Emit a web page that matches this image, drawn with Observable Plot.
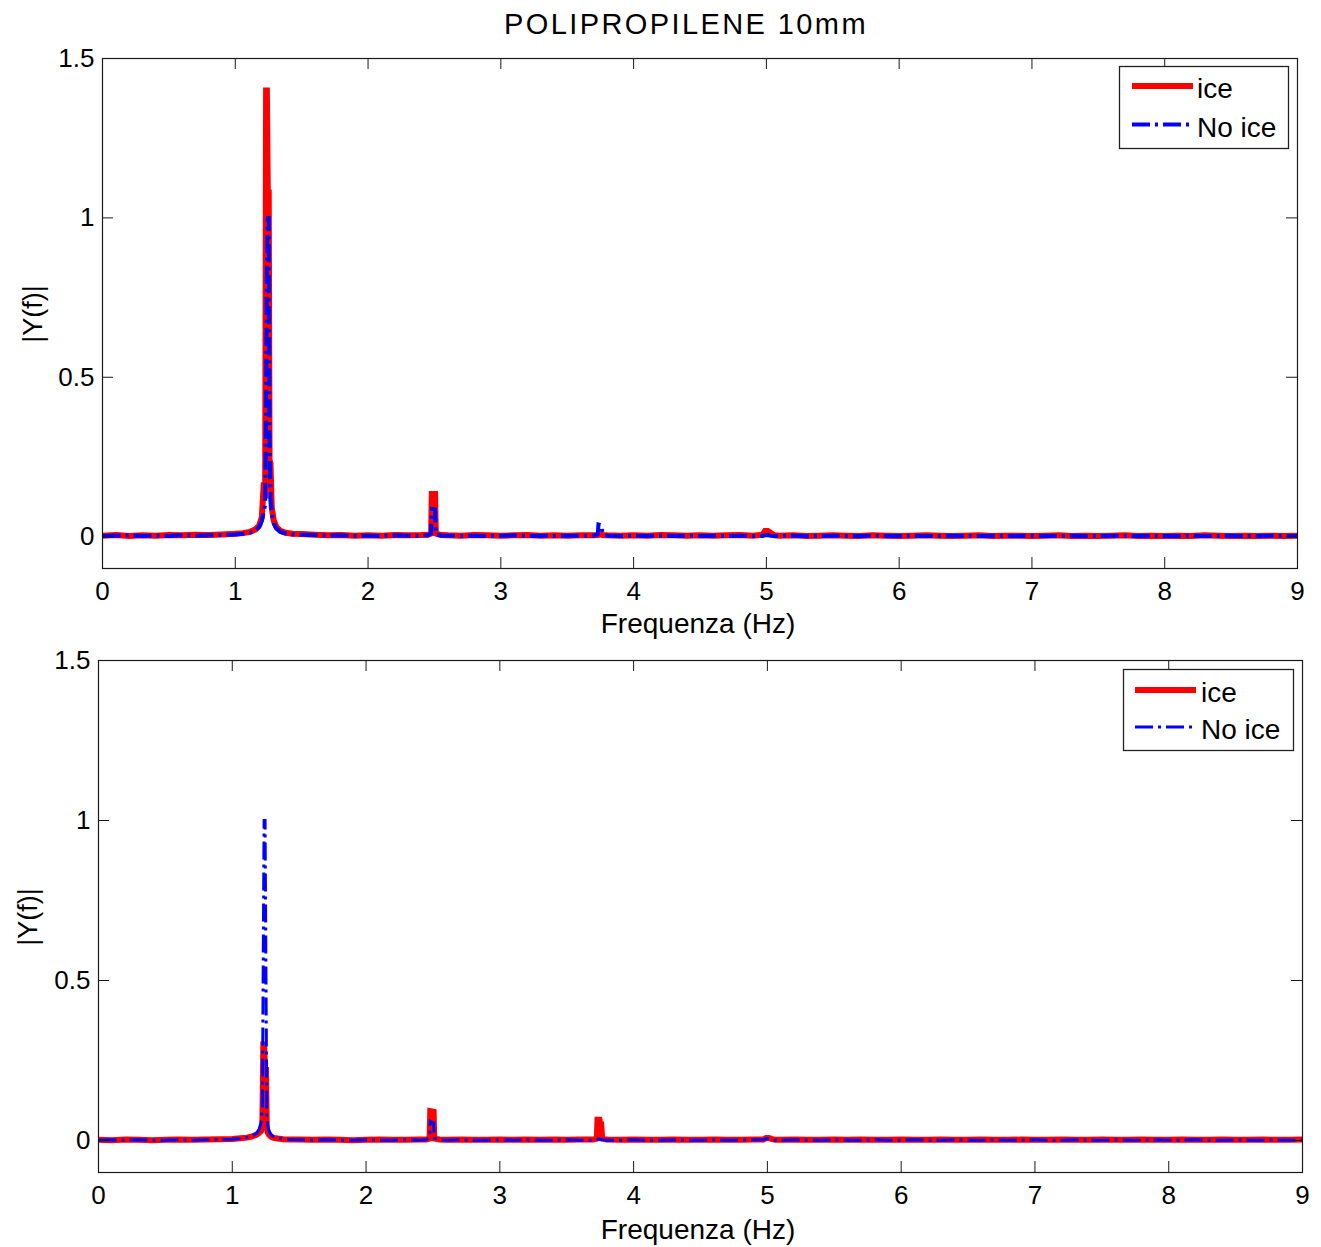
<!DOCTYPE html>
<html>
<head>
<meta charset="utf-8">
<script src="https://cdn.jsdelivr.net/npm/d3@7"></script>
<script src="https://cdn.jsdelivr.net/npm/@observablehq/plot@0.6"></script>
<style>
  html, body { margin: 0; padding: 0; background: #fff; }
  #page { position: relative; width: 1321px; height: 1247px; overflow: hidden; background: #fff; font-family: "Liberation Sans", Arial, sans-serif; }
  #top, #bottom { position: absolute; left: 0; }
  #top { top: 0; }
  #bottom { top: 640px; }
  #overlay { position: absolute; left: 0; top: 0; pointer-events: none; }
</style>
</head>
<body>
<div id="page">
  <div id="top"></div>
  <div id="bottom"></div>
  <svg id="overlay" width="1321" height="1247"></svg>
</div>
<script>
// ---------- data ----------
const title = "POLIPROPILENE 10mm";
const xLabel = "Frequenza (Hz)";
const yLabel = "|Y(f)|";
const seriesNames = ["ice", "No ice"];
const xTicks = [0, 1, 2, 3, 4, 5, 6, 7, 8, 9];
const yTicks = [0, 0.5, 1, 1.5];

// top panel
const freqTop = [
  0, 0.1, 0.2, 0.3, 0.4, 0.5, 0.6, 0.7, 0.8, 0.9,
  1.0, 1.06, 1.11, 1.15, 1.18, 1.2, 1.215, 1.225, 1.232, 1.238, 1.245, 1.252, 1.258, 1.265, 1.275, 1.29, 1.31, 1.34, 1.38, 1.43, 1.5,
  1.6, 1.7, 1.8, 1.9, 2.0, 2.1, 2.2, 2.3, 2.4,
  2.45, 2.475, 2.48, 2.505, 2.51, 2.55,
  2.6, 2.7, 2.8, 2.9, 3.0, 3.1, 3.2, 3.3, 3.4, 3.5, 3.6,
  3.7, 3.73, 3.735, 3.76, 3.765, 3.8,
  3.9, 4.0, 4.1, 4.2, 4.3, 4.4, 4.5, 4.6, 4.7, 4.8, 4.9,
  4.97, 4.99, 5.01, 5.03, 5.06,
  5.1, 5.2, 5.3, 5.4, 5.5, 5.6, 5.7, 5.8, 5.9, 6.0, 6.1, 6.2, 6.3, 6.4, 6.5, 6.6, 6.7, 6.8, 6.9, 7.0,
  7.1, 7.2, 7.3, 7.4, 7.5, 7.6, 7.7, 7.8, 7.9, 8.0, 8.1, 8.2, 8.3, 8.4, 8.5, 8.6, 8.7, 8.8, 8.9, 9.0
];
const iceTop = [
  0.003, 0.005, 0.002, 0.004, 0.003, 0.005, 0.004, 0.006, 0.005, 0.007,
  0.009, 0.011, 0.015, 0.022, 0.035, 0.06, 0.17, 0.12, 1.40, 1.40, 1.08, 1.08, 0.24, 0.23, 0.09, 0.05, 0.03, 0.018, 0.012, 0.009, 0.008,
  0.006, 0.004, 0.005, 0.003, 0.004, 0.003, 0.005, 0.004, 0.005,
  0.006, 0.010, 0.134, 0.134, 0.010, 0.005,
  0.004, 0.003, 0.005, 0.004, 0.003, 0.004, 0.005, 0.003, 0.004, 0.003, 0.004,
  0.004, 0.005, 0.008, 0.007, 0.005, 0.004,
  0.003, 0.004, 0.003, 0.005, 0.004, 0.003, 0.004, 0.003, 0.004, 0.005, 0.003,
  0.006, 0.018, 0.018, 0.012, 0.004,
  0.003, 0.004, 0.002, 0.003, 0.004, 0.003, 0.002, 0.004, 0.003, 0.002, 0.003, 0.004, 0.003, 0.002, 0.003, 0.004, 0.002, 0.003, 0.003, 0.002,
  0.003, 0.004, 0.002, 0.003, 0.002, 0.003, 0.004, 0.002, 0.003, 0.002, 0.003, 0.002, 0.004, 0.003, 0.002, 0.003, 0.002, 0.003, 0.002, 0.003
];
const noIceTop = [
  0.002, 0.003, 0.004, 0.002, 0.003, 0.002, 0.004, 0.003, 0.004, 0.005,
  0.007, 0.009, 0.012, 0.018, 0.03, 0.05, 0.08, 0.10, 0.40, 0.85, 1.0, 1.0, 0.30, 0.12, 0.07, 0.04, 0.025, 0.015, 0.010, 0.007, 0.006,
  0.005, 0.003, 0.004, 0.002, 0.003, 0.002, 0.004, 0.003, 0.003,
  0.004, 0.010, 0.087, 0.085, 0.008, 0.003,
  0.003, 0.002, 0.003, 0.002, 0.003, 0.004, 0.002, 0.003, 0.002, 0.003, 0.003,
  0.003, 0.008, 0.038, 0.036, 0.008, 0.003,
  0.002, 0.003, 0.002, 0.003, 0.002, 0.003, 0.002, 0.003, 0.002, 0.003, 0.002,
  0.002, 0.004, 0.005, 0.003, 0.002,
  0.002, 0.003, 0.002, 0.002, 0.003, 0.002, 0.002, 0.003, 0.002, 0.002, 0.003, 0.002, 0.002, 0.003, 0.002, 0.002, 0.003, 0.002, 0.002, 0.003,
  0.002, 0.002, 0.003, 0.002, 0.002, 0.003, 0.002, 0.002, 0.003, 0.002, 0.002, 0.003, 0.002, 0.002, 0.003, 0.002, 0.002, 0.003, 0.002, 0.002
];

// bottom panel
const freqBottom = [
  0, 0.1, 0.2, 0.3, 0.4, 0.5, 0.6, 0.7, 0.8, 0.9,
  1.0, 1.06, 1.11, 1.15, 1.18, 1.2, 1.215, 1.225, 1.232, 1.238, 1.245, 1.252, 1.258, 1.265, 1.275, 1.29, 1.31, 1.34, 1.38, 1.43, 1.5,
  1.6, 1.7, 1.8, 1.9, 2.0, 2.1, 2.2, 2.3, 2.4,
  2.45, 2.475, 2.48, 2.505, 2.51, 2.55,
  2.6, 2.7, 2.8, 2.9, 3.0, 3.1, 3.2, 3.3, 3.4, 3.5, 3.6,
  3.7, 3.725, 3.73, 3.745, 3.75, 3.758, 3.765, 3.8,
  3.9, 4.0, 4.1, 4.2, 4.3, 4.4, 4.5, 4.6, 4.7, 4.8, 4.9,
  4.97, 4.99, 5.01, 5.03, 5.06,
  5.1, 5.2, 5.3, 5.4, 5.5, 5.6, 5.7, 5.8, 5.9, 6.0, 6.1, 6.2, 6.3, 6.4, 6.5, 6.6, 6.7, 6.8, 6.9, 7.0,
  7.1, 7.2, 7.3, 7.4, 7.5, 7.6, 7.7, 7.8, 7.9, 8.0, 8.1, 8.2, 8.3, 8.4, 8.5, 8.6, 8.7, 8.8, 8.9, 9.0
];
const iceBottom = [
  0.002, 0.001, 0.003, 0.002, 0.001, 0.002, 0.003, 0.002, 0.003, 0.004,
  0.005, 0.007, 0.009, 0.013, 0.018, 0.024, 0.03, 0.05, 0.30, 0.30, 0.22, 0.22, 0.04, 0.025, 0.018, 0.012, 0.008, 0.006, 0.004, 0.003, 0.003,
  0.002, 0.003, 0.002, 0.001, 0.002, 0.003, 0.002, 0.002, 0.003,
  0.003, 0.006, 0.092, 0.090, 0.006, 0.003,
  0.002, 0.003, 0.002, 0.002, 0.003, 0.002, 0.003, 0.002, 0.003, 0.002, 0.003,
  0.003, 0.006, 0.065, 0.065, 0.050, 0.050, 0.006, 0.003,
  0.002, 0.003, 0.002, 0.002, 0.003, 0.002, 0.002, 0.003, 0.002, 0.002, 0.003,
  0.003, 0.008, 0.008, 0.005, 0.002,
  0.002, 0.003, 0.002, 0.002, 0.003, 0.002, 0.003, 0.002, 0.002, 0.003, 0.002, 0.002, 0.003, 0.002, 0.002, 0.003, 0.002, 0.002, 0.003, 0.002,
  0.002, 0.003, 0.002, 0.002, 0.003, 0.002, 0.002, 0.003, 0.002, 0.002, 0.003, 0.002, 0.002, 0.003, 0.002, 0.002, 0.003, 0.002, 0.002, 0.003
];
const noIceBottom = [
  0.001, 0.002, 0.001, 0.002, 0.001, 0.001, 0.002, 0.001, 0.002, 0.003,
  0.004, 0.006, 0.009, 0.014, 0.022, 0.035, 0.055, 0.10, 0.60, 1.0, 1.0, 0.50, 0.08, 0.045, 0.03, 0.018, 0.011, 0.007, 0.005, 0.003, 0.002,
  0.001, 0.002, 0.001, 0.001, 0.002, 0.001, 0.001, 0.002, 0.001,
  0.002, 0.010, 0.060, 0.055, 0.008, 0.002,
  0.001, 0.002, 0.001, 0.001, 0.002, 0.001, 0.002, 0.001, 0.001, 0.002, 0.001,
  0.001, 0.002, 0.004, 0.005, 0.004, 0.003, 0.002, 0.001,
  0.001, 0.002, 0.001, 0.001, 0.002, 0.001, 0.001, 0.002, 0.001, 0.001, 0.002,
  0.002, 0.006, 0.006, 0.003, 0.001,
  0.001, 0.002, 0.001, 0.001, 0.002, 0.001, 0.001, 0.002, 0.001, 0.001, 0.002, 0.001, 0.001, 0.002, 0.001, 0.001, 0.002, 0.001, 0.001, 0.002,
  0.001, 0.001, 0.002, 0.001, 0.001, 0.002, 0.001, 0.001, 0.002, 0.001, 0.001, 0.002, 0.001, 0.001, 0.002, 0.001, 0.001, 0.002, 0.001, 0.001
];

// ---------- chart ----------
const FONT = '"Liberation Sans", Arial, sans-serif';
const RED = "#ff0000", BLUE = "#0000ff", FRAME = "#1a1a1a";
const DASH = "18,5,3,5";

function panel({freq, ice, noIce, height, marginLeft, marginRight, marginTop, marginBottom, blueWidth}) {
  const xTickLen = 11 / ((1321 - marginLeft - marginRight) / 9);
  const yTickLen = 11 / ((height - marginTop - marginBottom) / 1.6);
  return Plot.plot({
    width: 1321, height, marginLeft, marginRight, marginTop, marginBottom,
    x: {domain: [0, 9]},
    y: {domain: [-0.1, 1.5]},
    style: {fontFamily: FONT, fontSize: "26px", color: "#000", background: "transparent", overflow: "visible"},
    marks: [
      Plot.line(ice, {x: freq, y: ice, stroke: RED, strokeWidth: 6, strokeLinejoin: "miter", strokeMiterlimit: 2, strokeLinecap: "butt"}),
      Plot.line(noIce, {x: freq, y: noIce, stroke: BLUE, strokeWidth: blueWidth, strokeDasharray: DASH, strokeLinejoin: "miter", strokeMiterlimit: 2, strokeLinecap: "butt"}),
      // inward ticks, MATLAB style, on all four sides
      Plot.ruleX(xTicks, {x: d => d, y1: () => -0.1, y2: () => -0.1 + yTickLen, stroke: FRAME, strokeWidth: 1}),
      Plot.ruleX(xTicks, {x: d => d, y1: () => 1.5 - yTickLen, y2: () => 1.5, stroke: FRAME, strokeWidth: 1}),
      Plot.ruleY(yTicks, {y: d => d, x1: () => 0, x2: () => xTickLen, stroke: FRAME, strokeWidth: 1}),
      Plot.ruleY(yTicks, {y: d => d, x1: () => 9 - xTickLen, x2: () => 9, stroke: FRAME, strokeWidth: 1}),
      Plot.frame({stroke: FRAME, strokeWidth: 1.2}),
      Plot.axisX({ticks: xTicks, tickSize: 0, tickPadding: 13, tickFormat: d => String(d), label: null, fontSize: 26}),
      Plot.axisY({ticks: yTicks, tickSize: 0, tickPadding: 8, tickFormat: d => String(d), label: null, fontSize: 26})
    ]
  });
}

document.getElementById("top").append(panel({
  freq: freqTop, ice: iceTop, noIce: noIceTop, height: 640,
  marginLeft: 102, marginRight: 24, marginTop: 58, marginBottom: 72, blueWidth: 4
}));
document.getElementById("bottom").append(panel({
  freq: freqBottom, ice: iceBottom, noIce: noIceBottom, height: 607,
  marginLeft: 98, marginRight: 19, marginTop: 20, marginBottom: 75, blueWidth: 3
}));

// ---------- overlay texts & legends ----------
const ov = d3.select("#overlay").attr("font-family", FONT).attr("fill", "#000");
ov.append("text").attr("x", 686).attr("y", 34).attr("font-size", 29)
  .attr("text-anchor", "middle").attr("letter-spacing", 2.4).text(title);

function labels(xCenter, xBase, yCenter, yBase) {
  ov.append("text").attr("x", xCenter).attr("y", xBase).attr("font-size", 28)
    .attr("text-anchor", "middle").text(xLabel);
  ov.append("text").attr("transform", `translate(${yBase},${yCenter}) rotate(-90)`)
    .attr("font-size", 27).attr("text-anchor", "middle").text(yLabel);
}
labels(698, 633, 314, 42);
labels(698, 1239, 917, 37);

function legend(x, y, w, h, redY, blueY, lineX0, lineX1, textX, blueWidth) {
  const g = ov.append("g");
  g.append("rect").attr("x", x).attr("y", y).attr("width", w).attr("height", h)
    .attr("fill", "#fff").attr("stroke", "#222").attr("stroke-width", 1.3);
  g.append("line").attr("x1", lineX0).attr("x2", lineX1).attr("y1", redY).attr("y2", redY)
    .attr("stroke", RED).attr("stroke-width", 6);
  g.append("line").attr("x1", lineX0).attr("x2", lineX1).attr("y1", blueY).attr("y2", blueY)
    .attr("stroke", BLUE).attr("stroke-width", blueWidth).attr("stroke-dasharray", DASH);
  g.append("text").attr("x", textX).attr("y", redY + 12).attr("font-size", 28).text(seriesNames[0]);
  g.append("text").attr("x", textX).attr("y", blueY + 12).attr("font-size", 28).text(seriesNames[1]);
}
legend(1119.5, 66.5, 169, 82, 86, 124.5, 1132, 1193, 1197, 4);
legend(1123.5, 669.5, 170, 81, 690, 727, 1135, 1196, 1201, 3);
</script>
</body>
</html>
